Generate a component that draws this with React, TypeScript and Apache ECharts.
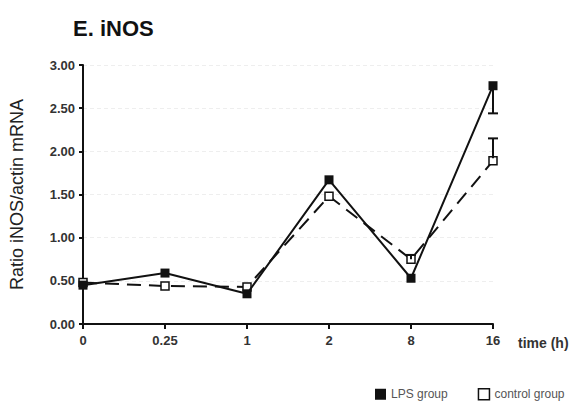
import React, { useEffect, useRef } from "react";
import * as echarts from "echarts";

const categories = ["0", "0.25", "1", "2", "8", "16"];
const lpsValues = [0.45, 0.59, 0.35, 1.67, 0.53, 2.76];
const controlValues = [0.48, 0.44, 0.43, 1.48, 0.75, 1.89];
// error bars: [categoryIndex, from, to]
const lpsErrors = [[5, 2.76, 2.44]];
const controlErrors = [[4, 0.75, 0.8], [5, 1.92, 2.15]];
const yTicks = [0, 0.5, 1, 1.5, 2, 2.5, 3];

export default function App() {
  const ref = useRef<HTMLDivElement>(null);
  useEffect(() => {
    const chart = echarts.init(ref.current!, null, { renderer: "svg" });
    const errRender = (params: any, api: any) => {
      const x = api.value(0);
      const a = api.coord([x, api.value(1)]);
      const b = api.coord([x, api.value(2)]);
      const w = 5;
      const style = { stroke: "#111", lineWidth: 2 };
      return {
        type: "group",
        children: [
          { type: "line", shape: { x1: a[0], y1: a[1], x2: b[0], y2: b[1] }, style },
          { type: "line", shape: { x1: b[0] - w, y1: b[1], x2: b[0] + w, y2: b[1] }, style },
        ],
      };
    };
    chart.setOption({
      animation: false,
      backgroundColor: "#fff",
      title: {
        text: "E. iNOS",
        left: 68,
        top: 12,
        textStyle: { fontFamily: "Liberation Sans, Arial", fontSize: 22, fontWeight: "bold", color: "#111" },
      },
      grid: { left: 83, right: 92, top: 65, bottom: 83 },
      legend: {
        left: 375,
        top: 388,
        padding: 0,
        itemWidth: 11,
        itemHeight: 11,
        itemGap: 30,
        textStyle: { fontFamily: "Liberation Sans, Arial", fontSize: 12, color: "#555" },
        data: [
          { name: "LPS group", icon: "rect", itemStyle: { color: "#111" } },
          { name: "control group", icon: "rect", itemStyle: { color: "#fff", borderColor: "#111", borderWidth: 1.5 } },
        ],
      },
      xAxis: {
        type: "category",
        data: categories,
        boundaryGap: false,
        name: "time (h)",
        nameLocation: "end",
        nameGap: 25,
        nameTextStyle: { fontFamily: "Liberation Sans, Arial", fontSize: 14, fontWeight: "bold", color: "#333", verticalAlign: "top", padding: [12, 0, 0, 0] },
        axisLine: { lineStyle: { color: "#111", width: 2 } },
        axisTick: { show: true, alignWithLabel: true, length: 5, lineStyle: { color: "#111", width: 2 } },
        axisLabel: { fontFamily: "Liberation Sans, Arial", fontSize: 13, fontWeight: "bold", color: "#333", margin: 10 },
        splitLine: { show: false },
      },
      yAxis: {
        type: "value",
        min: 0,
        max: 3,
        interval: 0.5,
        name: "Ratio iNOS/actin mRNA",
        nameLocation: "middle",
        nameGap: 57,
        nameTextStyle: { fontFamily: "Liberation Sans, Arial", fontSize: 18, color: "#222" },
        axisLine: { show: true, lineStyle: { color: "#111", width: 2 } },
        axisTick: { show: true, length: 4, lineStyle: { color: "#111", width: 2 } },
        axisLabel: {
          fontFamily: "Liberation Sans, Arial",
          fontSize: 13,
          fontWeight: "bold",
          color: "#333",
          margin: 8,
          formatter: (v: number) => (yTicks.includes(v) ? v.toFixed(2) : ""),
        },
        splitLine: { show: true, lineStyle: { color: "#eeeeee", type: [4, 3], width: 1 } },
      },
      series: [
        {
          name: "control group",
          type: "line",
          data: controlValues,
          symbol: "rect",
          symbolSize: 8,
          lineStyle: { color: "#111", width: 2, type: [14, 8] },
          itemStyle: { color: "#fff", borderColor: "#111", borderWidth: 1.5 },
          z: 2,
        },
        {
          name: "LPS group",
          type: "line",
          data: lpsValues,
          symbol: "rect",
          symbolSize: 9,
          lineStyle: { color: "#111", width: 2 },
          itemStyle: { color: "#111" },
          z: 3,
        },
        { type: "custom", renderItem: errRender, data: lpsErrors, z: 4 },
        { type: "custom", renderItem: errRender, data: controlErrors, z: 4 },
      ],
    });
    return () => chart.dispose();
  }, []);
  return <div ref={ref} style={{ width: 585, height: 407, position: "absolute", left: 0, top: 0 }} />;
}
